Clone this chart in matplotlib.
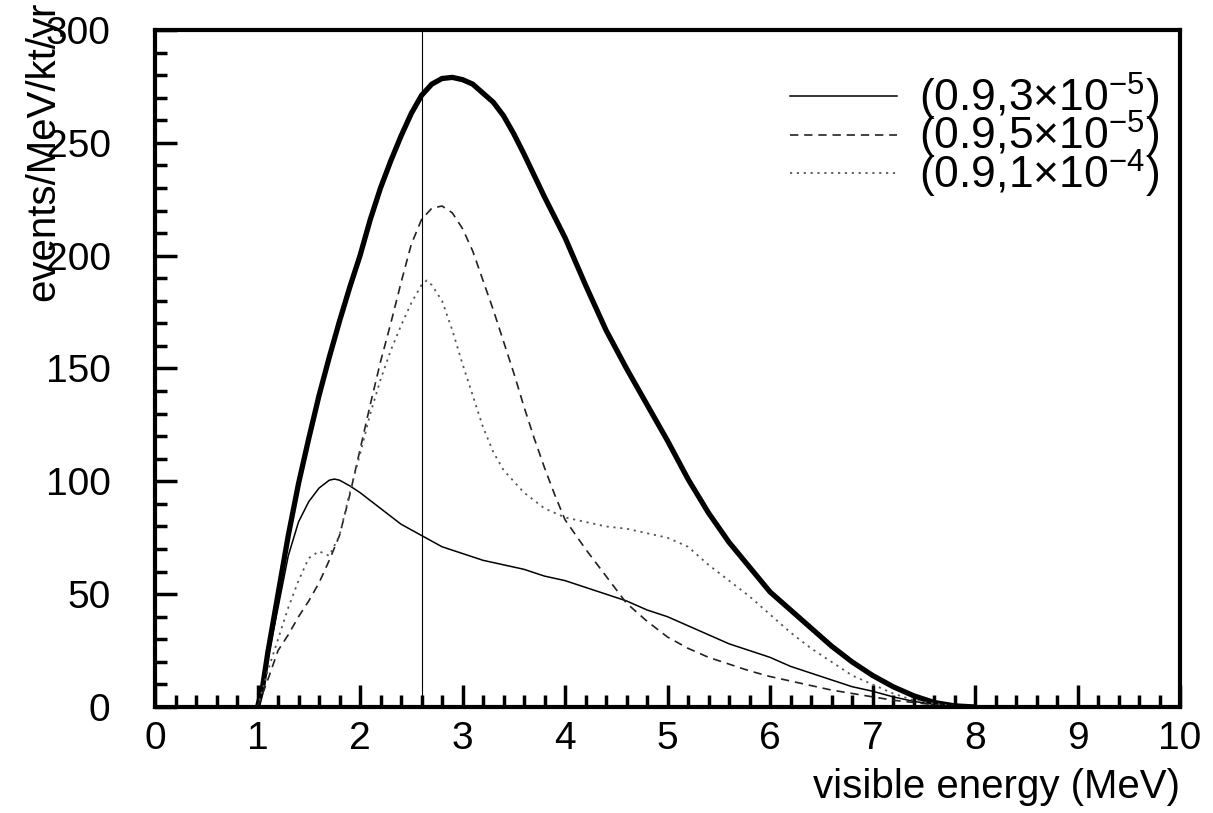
import numpy as np
import matplotlib
matplotlib.use("Agg")
import matplotlib.pyplot as plt
from matplotlib.ticker import MultipleLocator

plt.rcParams['font.family'] = ['Liberation Sans', 'DejaVu Sans']
plt.rcParams['mathtext.fontset'] = 'custom'
plt.rcParams['mathtext.rm'] = 'Liberation Sans'
plt.rcParams['mathtext.it'] = 'Liberation Sans'

# no oscillation (thick)
e_noosc = [1.0, 1.05, 1.1, 1.2, 1.3, 1.4, 1.5, 1.6, 1.7, 1.8, 1.9, 2.0, 2.1, 2.2, 2.3, 2.4,
           2.5, 2.6, 2.7, 2.8, 2.9, 3.0, 3.1, 3.2, 3.3, 3.4, 3.5, 3.6, 3.8, 4.0, 4.2,
           4.4, 4.6, 4.8, 5.0, 5.2, 5.4, 5.6, 5.8, 6.0, 6.2, 6.4, 6.6, 6.8, 7.0,
           7.2, 7.4, 7.6, 7.8, 8.0]
n_noosc = [0, 9, 24, 50, 76, 99, 119, 138, 155, 171, 186, 200, 216, 230, 242, 253,
           263, 271, 276, 278.5, 279, 278, 276, 272, 268, 262, 254, 245, 226, 208, 187,
           167, 150, 134, 118, 101, 86, 73, 62, 51, 43, 35, 27, 20, 14,
           9, 5, 2, 0.5, 0]

# (0.9, 3e-5) solid
e_a = [1.0, 1.05, 1.1, 1.2, 1.3, 1.4, 1.5, 1.6, 1.7, 1.75, 1.8, 1.9, 2.0, 2.2, 2.4, 2.6, 2.8,
       3.0, 3.2, 3.4, 3.6, 3.8, 4.0, 4.2, 4.4, 4.6, 4.8, 5.0, 5.2, 5.4, 5.6, 5.8,
       6.0, 6.2, 6.4, 6.6, 6.8, 7.0, 7.2, 7.4, 7.6, 7.8, 8.0]
n_a = [0, 8, 21, 44, 67, 82, 91, 97, 100.5, 101, 100.5, 98, 95, 88, 81, 76, 71,
       68, 65, 63, 61, 58, 56, 53, 50, 47, 43, 40, 36, 32, 28, 25,
       22, 18, 15, 12, 9, 7, 4.5, 2.5, 1.2, 0.5, 0]

# (0.9, 5e-5) dashed
e_b = [1.0, 1.1, 1.2, 1.3, 1.4, 1.5, 1.6, 1.7, 1.8, 1.9, 2.0, 2.1, 2.2, 2.3, 2.4, 2.5,
       2.6, 2.7, 2.8, 2.9, 3.0, 3.1, 3.2, 3.3, 3.4, 3.5, 3.6, 3.7, 3.8, 3.9, 4.0,
       4.2, 4.4, 4.6, 4.8, 5.0, 5.2, 5.4, 5.6, 5.8, 6.0, 6.2, 6.4, 6.6, 6.8, 7.0,
       7.2, 7.4, 7.6, 7.8, 8.0]
n_b = [0, 12, 25, 32, 40, 47, 55, 65, 76, 94, 114, 134, 153, 170, 188, 205,
       216, 221, 222, 219, 212, 202, 189, 176, 162, 148, 133, 119, 106, 94, 83,
       70, 58, 46, 38, 31, 26, 22, 19, 16, 13.5, 11.5, 9.5, 7.5, 6, 4.5,
       3, 2, 1, 0.5, 0]

# (0.9, 1e-4) dotted
e_c = [1.0, 1.1, 1.2, 1.3, 1.4, 1.5, 1.6, 1.7, 1.8, 1.9, 2.0, 2.1, 2.2, 2.3, 2.4, 2.5,
       2.6, 2.65, 2.7, 2.8, 2.9, 3.0, 3.1, 3.2, 3.3, 3.4, 3.6, 3.8, 4.0, 4.2, 4.4,
       4.6, 4.8, 5.0, 5.2, 5.4, 5.6, 5.8, 6.0, 6.2, 6.4, 6.6, 6.8, 7.0, 7.2, 7.4,
       7.6, 7.8, 8.0]
n_c = [0, 16, 30, 44, 56, 66, 69, 67, 76, 95, 112, 130, 145, 158, 169, 179,
       187, 189, 187, 180, 167, 152, 138, 124, 113, 105, 95, 88, 84, 82, 80,
       79, 77, 75, 71, 63, 56, 49, 41, 33, 26, 20, 14, 10, 6, 3,
       1.5, 0.5, 0]

labels = [r'(0.9,3$\times$10$^{-5}$)', r'(0.9,5$\times$10$^{-5}$)', r'(0.9,1$\times$10$^{-4}$)']
e_line = 2.6

fig = plt.figure(figsize=(12.13, 8.13), dpi=100)
ax = fig.add_axes([0.1278, 0.1304, 0.8450, 0.8327])

ax.plot(e_noosc, n_noosc, color='black', lw=3.8, solid_capstyle='round', solid_joinstyle='round')
ax.plot(e_a, n_a, color='black', lw=1.1, label=labels[0])
ax.plot(e_b, n_b, color='#222222', lw=1.2, linestyle=(0, (5, 3.5)), label=labels[1])
ax.plot(e_c, n_c, color='#555555', lw=1.3, linestyle=(0, (1.2, 2.6)), label=labels[2])
ax.axvline(e_line, color='black', lw=0.8)

ax.set_xlim(0, 10)
ax.set_ylim(0, 300)
ax.xaxis.set_major_locator(MultipleLocator(1))
ax.xaxis.set_minor_locator(MultipleLocator(0.2))
ax.yaxis.set_major_locator(MultipleLocator(50))
ax.yaxis.set_minor_locator(MultipleLocator(10))
ax.tick_params(which='both', direction='in', width=2.5, top=False, right=False,
               labelsize=28)
ax.tick_params(which='major', length=16)
ax.tick_params(which='minor', length=8.5)
ax.tick_params(axis='y', which='major', pad=32)
ax.tick_params(axis='x', which='major', pad=10)
for s in ax.spines.values():
    s.set_linewidth(3)

ax.set_xlabel('visible energy (MeV)', fontsize=29, loc='right', labelpad=8)
fig.text(43 / 1213, 1 - 2 / 813, 'events/MeV/kt/yr', rotation=90, fontsize=29,
         ha='center', va='top')

ax.legend(loc='upper right', bbox_to_anchor=(0.98, 0.94), frameon=False,
          fontsize=32, handlelength=2.4, handletextpad=0.5, labelspacing=-0.3,
          borderpad=0, borderaxespad=0)

fig.savefig('out.png', dpi=100)
